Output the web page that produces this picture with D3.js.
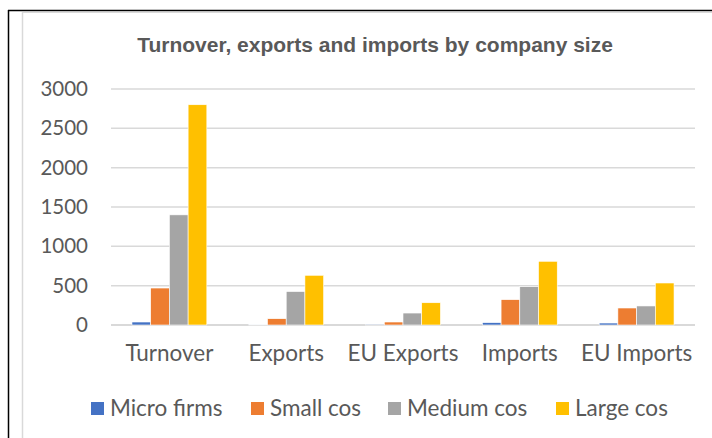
<!DOCTYPE html>
<html>
<head>
<meta charset="utf-8">
<script src="https://cdn.jsdelivr.net/npm/d3@7"></script>
<style>
  html, body { margin: 0; padding: 0; background: #fff; }
  svg { display: block; }
</style>
</head>
<body>
<svg id="chart" width="712" height="438"></svg>
<script>
// Chart data
const categories = ["Turnover", "Exports", "EU Exports", "Imports", "EU Imports"];
const seriesNames = ["Micro firms", "Small cos", "Medium cos", "Large cos"];
const microFirms = [38, 4, 3, 30, 25];
const smallCos = [470, 80, 38, 322, 216];
const mediumCos = [1400, 425, 152, 487, 242];
const largeCos = [2800, 632, 283, 810, 534];
const yTicks = [0, 500, 1000, 1500, 2000, 2500, 3000];
const colors = ["#4472C4", "#ED7D31", "#A5A5A5", "#FFC000"];
const title = "Turnover, exports and imports by company size";

const seriesValues = [microFirms, smallCos, mediumCos, largeCos];

const svg = d3.select("#chart");
const labelFont = "Lato, 'Open Sans', sans-serif";
const textColor = "#595959";

// Outer page frame and chart area border
svg.append("line").attr("x1", 8.5).attr("x2", 8.5).attr("y1", 10).attr("y2", 438)
  .attr("stroke", "#000").attr("stroke-width", 1.5);
svg.append("line").attr("x1", 8).attr("x2", 712).attr("y1", 10.5).attr("y2", 10.5)
  .attr("stroke", "#000").attr("stroke-width", 1.5);
svg.append("line").attr("x1", 22.5).attr("x2", 22.5).attr("y1", 12).attr("y2", 438)
  .attr("stroke", "#d9d9d9").attr("stroke-width", 1.5);
svg.append("line").attr("x1", 22).attr("x2", 712).attr("y1", 12.5).attr("y2", 12.5)
  .attr("stroke", "#d9d9d9").attr("stroke-width", 1);

// Scales
const plot = { left: 111, right: 695, top: 89, bottom: 325 };
const y = d3.scaleLinear().domain([0, 3000]).range([plot.bottom, plot.top]);
const x0 = d3.scaleBand().domain(categories).range([plot.left, plot.right]).padding(0);
const x1 = d3.scaleBand().domain(seriesNames).range([0, x0.bandwidth()])
  .paddingInner(0).paddingOuter(1.12);

// Title
svg.append("text")
  .attr("x", 375).attr("y", 52)
  .attr("text-anchor", "middle")
  .attr("font-family", "'Liberation Sans', Arial, sans-serif")
  .attr("font-weight", "bold")
  .attr("font-size", 21)
  .attr("fill", textColor)
  .text(title);

// Gridlines
svg.append("g")
  .selectAll("line")
  .data(yTicks)
  .join("line")
  .attr("x1", plot.left).attr("x2", plot.right)
  .attr("y1", d => y(d)).attr("y2", d => y(d))
  .attr("stroke", "#d9d9d9")
  .attr("stroke-width", d => d === 0 ? 2 : 1.5);

// Y axis labels
const yAxis = d3.axisLeft(y).tickValues(yTicks).tickFormat(d3.format("d"))
  .tickSize(0).tickPadding(0);
const yg = svg.append("g").attr("transform", `translate(88,0)`).call(yAxis);
yg.select(".domain").remove();
yg.selectAll("text")
  .attr("font-family", labelFont).attr("font-size", 20.5)
  .attr("fill", textColor);

// Bars
const groups = svg.append("g")
  .selectAll("g")
  .data(categories)
  .join("g")
  .attr("transform", d => `translate(${x0(d)},0)`);

groups.selectAll("rect")
  .data((c, i) => seriesNames.map((s, j) => ({ s, j, v: seriesValues[j][i] })))
  .join("rect")
  .attr("x", d => x1(d.s))
  .attr("width", x1.bandwidth())
  .attr("y", d => y(d.v))
  .attr("height", d => y(0) - y(d.v))
  .attr("fill", d => colors[d.j])
  .attr("stroke", "#fff")
  .attr("stroke-width", 0.6);

// X axis labels
const xAxis = d3.axisBottom(x0).tickSize(0).tickPadding(0);
const xg = svg.append("g").attr("transform", `translate(0,${plot.bottom + 20})`).call(xAxis);
xg.select(".domain").remove();
xg.selectAll("text")
  .attr("font-family", labelFont).attr("font-size", 22.5)
  .attr("fill", textColor);

// Legend
const legendX = [91, 251, 388, 556];
const legend = svg.append("g")
  .selectAll("g")
  .data(seriesNames)
  .join("g")
  .attr("transform", (d, i) => `translate(${legendX[i]},402)`);
legend.append("rect")
  .attr("width", 13).attr("height", 13)
  .attr("fill", (d, i) => colors[i]);
legend.append("text")
  .attr("x", 19).attr("y", 14)
  .attr("font-family", labelFont).attr("font-size", 22.5)
  .attr("fill", textColor)
  .text(d => d);
</script>
</body>
</html>
